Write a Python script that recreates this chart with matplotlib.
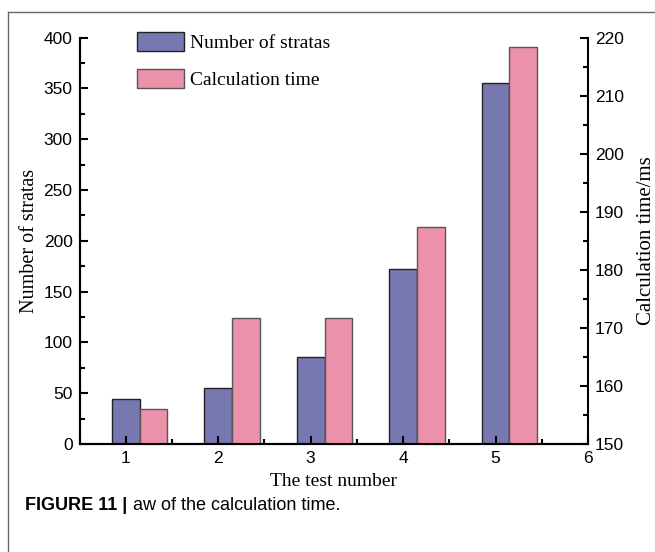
import matplotlib.pyplot as plt
from matplotlib.lines import Line2D
from matplotlib.ticker import MultipleLocator
import numpy as np

tests = [1, 2, 3, 4, 5]
strata_counts = [44, 55, 86, 172, 355]
calc_times = [156, 171.7, 171.7, 187.4, 218.4]

blue = "#7878b0"
pink = "#ec91aa"
bar_w = 0.3

serif = "Liberation Serif"
sans = "Liberation Sans"

px = 1 / 100
fig = plt.figure(figsize=(655 * px, 552 * px), dpi=100)
ax = fig.add_axes([79.5 / 655, 108 / 552, 508.5 / 655, 406.4 / 552])
ax2 = ax.twinx()

x = np.array(tests)
b1 = ax.bar(x, strata_counts, width=bar_w, color=blue, edgecolor="#222222", linewidth=1.0, label="Number of stratas")
b2 = ax2.bar(x + bar_w, calc_times, width=bar_w, color=pink, edgecolor="#555555", linewidth=1.0, label="Calculation time")

ax.set_xlim(0.5, 6)
ax.set_ylim(0, 400)
ax2.set_ylim(150, 220)

ax.xaxis.set_major_locator(MultipleLocator(1))
ax.xaxis.set_minor_locator(MultipleLocator(0.5))
ax.yaxis.set_major_locator(MultipleLocator(50))
ax.yaxis.set_minor_locator(MultipleLocator(25))
ax2.yaxis.set_major_locator(MultipleLocator(10))
ax2.yaxis.set_minor_locator(MultipleLocator(5))

for a in (ax, ax2):
    a.spines["top"].set_visible(False)
    for s in a.spines.values():
        s.set_linewidth(1.5)
ax.spines["right"].set_visible(False)

# all ticks point inward
for a in (ax, ax2):
    a.tick_params(which="major", direction="in", length=6, width=1.5, labelsize=12.5, pad=5)
    a.tick_params(which="minor", direction="in", length=3.5, width=1.5)
for lab in ax.get_xticklabels() + ax.get_yticklabels() + ax2.get_yticklabels():
    lab.set_fontfamily(sans)

ax.set_xlabel("The test number", fontfamily=serif, fontsize=14, labelpad=5)
ax.set_ylabel("Number of stratas", fontfamily=serif, fontsize=14.5, labelpad=3)
ax2.set_ylabel("Calculation time/ms", fontfamily=serif, fontsize=15, labelpad=9)

fig.legend(handles=[b1, b2], loc="upper left", bbox_to_anchor=(137 / 655, 1 - 32 / 552),
           frameon=False, prop={"family": serif, "size": 14}, handlelength=2.4,
           handleheight=1.15, labelspacing=0.85, handletextpad=0.3,
           borderpad=0, borderaxespad=0)

# page frame lines and caption
fig.add_artist(Line2D([8 / 655, 1], [1 - 12 / 552, 1 - 12 / 552], color="#666666", lw=1))
fig.add_artist(Line2D([8 / 655, 8 / 655], [0, 1 - 12 / 552], color="#666666", lw=1))
fig.text(25 / 655, 1 - 505 / 552, "FIGURE 11 |", fontfamily=sans, fontweight="bold",
         fontsize=13, va="center", ha="left")
fig.text(133 / 655, 1 - 505 / 552, "aw of the calculation time.", fontfamily=sans,
         fontsize=13, va="center", ha="left")

fig.savefig("out.png", dpi=100)
